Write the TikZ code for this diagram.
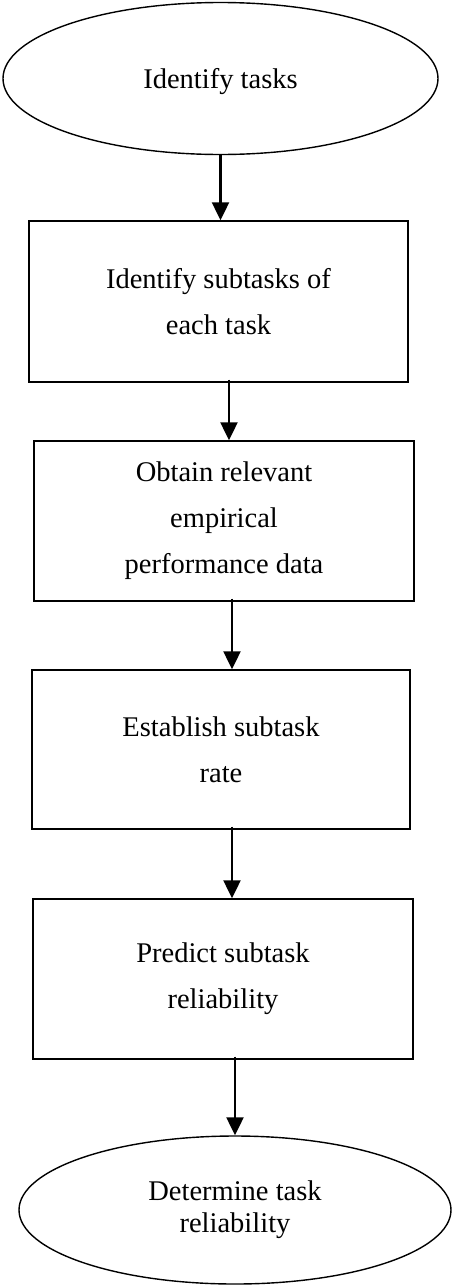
\documentclass[tikz,border=0pt]{standalone}
\usepackage{fontspec}
\setmainfont{Liberation Serif}
\usetikzlibrary{shapes.geometric,arrows.meta}
\tikzset{
  stepbox/.style={draw=black, line width=1.4pt, rectangle, inner sep=0pt, align=center,
    font=\fontsize{28.5}{46}\selectfont},
  termnode/.style={draw=black, line width=1.4pt, ellipse, inner sep=0pt, align=center,
    font=\fontsize{28.5}{32}\selectfont},
  arr/.style={line width=2.2pt, -{Triangle[length=18pt,width=17pt]}, shorten <=-3pt}
}
\begin{document}
\begin{tikzpicture}[x=1pt,y=1pt]
\useasboundingbox (0,0) rectangle (452,-1285);
\node[termnode, minimum width=435pt, minimum height=152pt, text depth=-8pt] (e1) at (220.5,-78.5) {Identify tasks};
\node[stepbox, minimum width=379pt, minimum height=161pt] (b1) at (218.5,-301.5) {Identify subtasks of\\each task};
\node[stepbox, minimum width=380pt, minimum height=160pt] (b2) at (224,-521) {Obtain relevant\\empirical\\performance data};
\node[stepbox, minimum width=378pt, minimum height=159pt] (b3) at (221,-749.5) {Establish subtask\\rate};
\node[stepbox, minimum width=380pt, minimum height=160pt] (b4) at (223,-979) {Predict subtask\\reliability};
\node[termnode, minimum width=432pt, minimum height=148pt] (e2) at (235,-1210) {Determine task\\reliability};
\draw[arr, shorten <=0pt] (e1.south) -- (e1.south |- b1.north);
\draw[arr] ([xshift=10.5pt]b1.south) -- ([xshift=5pt]b2.north);
\draw[arr] ([xshift=8pt]b2.south) -- ([xshift=11pt]b3.north);
\draw[arr] ([xshift=11pt]b3.south) -- ([xshift=9pt]b4.north);
\draw[arr] ([xshift=12pt]b4.south) -- (e2.north);
\end{tikzpicture}
\end{document}
